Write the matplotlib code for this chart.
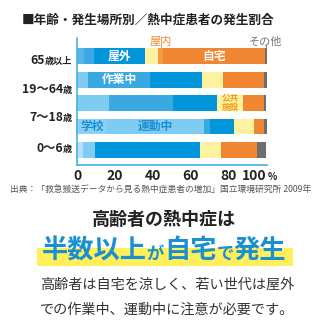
import matplotlib
matplotlib.use("Agg")
import matplotlib.pyplot as plt
from matplotlib.patches import Rectangle
from matplotlib.transforms import IdentityTransform
import numpy as np

plt.rcParams['font.family'] = ['Noto Sans CJK JP', 'DejaVu Sans']

# 年齢層ごとの発生場所の内訳 (%)
v_65 = [3.3, 5.3, 27.1, 7.1, 2.4, 54.1, 0.7]
v_19_64a = [5.5, 33.0, 27.5, 11.0, 21.5, 1.5]
v_19_64b = [16.5, 34.2, 23.4, 13.3, 11.5, 1.1]
v_7_18 = [15.5, 51.5, 3.4, 12.4, 10.6, 5.3, 1.3]
v_0_6 = [3.0, 6.3, 55.5, 11.0, 19.0, 5.2]

age_labels = [("65", "歳以上"), ("19～64", "歳"), ("7～18", "歳"), ("0～6", "歳")]
age_label_pos = [0.13, 1.41, 2.58, 3.93]
ticks = [0, 20, 40, 60, 80, 100]

# colours
c_pale = "#B5E1F6"
c_light = "#7FCCF2"
c_light2 = "#8AD1F3"
c_mid65 = "#55B6E8"
c_mid = "#3AA8E1"
c_dark = "#0096D9"
c_yel = "#FDF2A0"
c_or_l = "#F49A45"
c_or = "#F08532"
c_gray = "#6E6E6E"
c_axis = "#45B0E5"
c_blue_txt = "#1A8FD2"

rows = [v_65, v_19_64a, v_19_64b, v_7_18, v_0_6]
row_colors = [
    [c_mid65, c_mid, c_dark, c_yel, c_or_l, c_or, c_gray],
    [c_light, c_mid, c_dark, c_yel, c_or, c_gray],
    [c_light, c_mid, c_dark, c_yel, c_or, c_gray],
    [c_light2, c_light, c_mid, c_dark, c_yel, c_or, c_gray],
    [c_pale, c_light, c_dark, c_yel, c_or, c_gray],
]

W, H = 327, 331
fig = plt.figure(figsize=(W / 100, H / 100), dpi=100)
fig.patch.set_facecolor("white")

# axes in pixel box: x 77.3..266.5, y 38..165 (from top)
ax = fig.add_axes([77.3 / W, 1 - 165 / H, (266.5 - 77.3) / W, (165 - 38) / H])
ax.set_xlim(0, 100)
ax.set_ylim(4.645, -0.78)

for i, (vals, cols) in enumerate(zip(rows, row_colors)):
    lefts = np.concatenate([[0], np.cumsum(vals)[:-1]])
    ax.barh([i] * len(vals), vals, left=lefts, height=0.68, color=cols,
            edgecolor="none", zorder=2)


def seg_center(vals, k):
    return sum(vals[:k]) + vals[k] / 2


lab_kw = dict(ha="center", va="center", fontsize=8.5, fontweight="bold", zorder=3)
ax.text(seg_center(v_65, 2), 0, "屋外", color="white", **lab_kw)
ax.text(seg_center(v_65, 5), 0, "自宅", color="white", **lab_kw)
ax.text(seg_center(v_19_64a, 1), 1, "作業中", color="white", **lab_kw)
ax.text(seg_center(v_7_18, 0), 3, "学校", color=c_blue_txt, **lab_kw)
ax.text(seg_center(v_7_18, 1), 3, "運動中", color=c_blue_txt, **lab_kw)
ax.text(seg_center(v_19_64b, 3), 2, "公共\n施設", color="#F39A1E", ha="center",
        va="center", fontsize=6.2, fontweight="bold", linespacing=1.05, zorder=3)

# 屋内 / その他 の引き出し
x_in = seg_center(v_65, 4)
x_other = seg_center(v_65, 6)
ax.text(x_in, -0.62, "屋内", color="#F08C2E", ha="center", va="center", fontsize=8)
ax.text(x_other, -0.62, "その他", color="#777777", ha="center", va="center", fontsize=8)
ax.plot([x_in, x_in], [-0.5, -0.34], color="#F08C2E", lw=0.6, clip_on=False)
ax.plot([x_other, x_other], [-0.5, -0.34], color="#777777", lw=0.6, clip_on=False)

for s in ["top", "right"]:
    ax.spines[s].set_visible(False)
for s in ["left", "bottom"]:
    ax.spines[s].set_color(c_axis)
    ax.spines[s].set_linewidth(1.2)
ax.set_yticks([])
ax.set_xticks(ticks, labels=[str(t) for t in ticks])
ax.tick_params(axis="x", length=0, pad=3, labelsize=10)
for lbl in ax.get_xticklabels():
    lbl.set_fontweight("bold")
    lbl.set_color("#222222")
ax.get_xticklabels()[-1].set_ha("right")

renderer = fig.canvas.get_renderer()


def draw_runs(x, y, parts, ha="left", weight="bold"):
    # parts: (text, size, colour); x, y in pixels from the top-left, y is baseline
    objs = []
    cur = 0.0
    for s, size, color in parts:
        t = fig.text(0, 0, s, fontsize=size, color=color, fontweight=weight,
                     va="baseline", ha="left", transform=IdentityTransform())
        w = t.get_window_extent(renderer).width
        objs.append((t, cur))
        cur += w
    shift = {"left": 0, "center": -cur / 2, "right": -cur}[ha]
    for t, off in objs:
        t.set_position((x + shift + off, H - y))
    return objs


# 年齢ラベル
for (num, suf), pos in zip(age_labels, age_label_pos):
    yc = H - ax.transData.transform((0, pos))[1]
    draw_runs(72, yc + 4.2, [(num, 8.8, "#222222"), (suf, 6.6, "#222222")], ha="right")

fig.text(268 / W, 1 - 180.5 / H, "%", fontsize=7, fontweight="bold", color="#222222",
         ha="left", va="baseline")

# タイトル
fig.text(22 / W, 1 - 20 / H, "■年齢・発生場所別／熱中症患者の発生割合", fontsize=9.1,
         fontweight="bold", color="#222222", ha="left", va="center")

# 出典
fig.text(10 / W, 1 - 190 / H, "出典：「救急搬送データから見る熱中症患者の増加」国立環境研究所 2009年",
         fontsize=6.3, color="#555555", ha="left", va="center")

# 見出し
fig.text(164 / W, 1 - 219 / H, "高齢者の熱中症は", fontsize=13, fontweight="bold",
         color="#222222", ha="center", va="center")

fig.patches.append(Rectangle((37 / W, 1 - 266 / H), (293 - 37) / W, 18 / H,
                             transform=fig.transFigure, facecolor="#FFEF5A",
                             edgecolor="none", zorder=0))
big, small = 18.9, 12.5
draw_runs(164, 258.5, [("半数以上", big, c_blue_txt), ("が", small, c_blue_txt),
                       ("自宅", big, c_blue_txt), ("で", small, c_blue_txt),
                       ("発生", big, c_blue_txt)], ha="center")

# 本文
fig.text(40 / W, 1 - 285 / H, "高齢者は自宅を涼しく、若い世代は屋外", fontsize=10.2,
         color="#333333", ha="left", va="center")
fig.text(40 / W, 1 - 310 / H, "での作業中、運動中に注意が必要です。", fontsize=10.2,
         color="#333333", ha="left", va="center")

fig.savefig("out.png", dpi=100)
